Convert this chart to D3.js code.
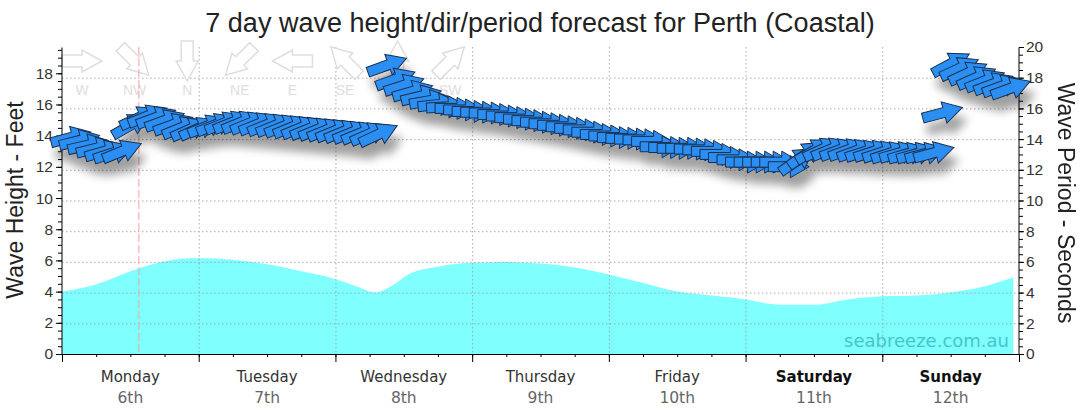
<!DOCTYPE html>
<html>
<head>
<meta charset="utf-8">
<script src="https://cdn.jsdelivr.net/npm/d3@7"></script>
<style>
    html, body { margin: 0; padding: 0; background: #fff; }
    svg { display: block; }
    .tick text { font-family: "Liberation Sans", Arial, sans-serif; font-size: 15.5px; fill: #333; }
    .domain, .tick line { stroke: #000; }
</style>
</head>
<body>
<div id="chart"></div>
<script>
// Wave height (feet)
const heightHours = [0, 6, 12, 18, 24, 30, 36, 42, 48, 52, 55, 58, 61, 66, 72, 78, 84, 90, 96,
    102, 108, 114, 120, 126, 132, 138, 144, 150, 156, 162, 167];
const heightFeet = [4.0, 4.45, 5.3, 5.95, 6.15, 6.05, 5.75, 5.3, 4.8, 4.3, 3.95, 4.4, 5.15, 5.6,
    5.85, 5.9, 5.8, 5.55, 5.1, 4.55, 4.0, 3.75, 3.5, 3.15, 3.15, 3.5, 3.7, 3.75, 3.95, 4.35, 4.9];

// Arrow times (hours from Monday 00:00), period (s) and direction (deg, coming from)
const arrowHours = [
    1.5, 3, 4.5, 6, 7.5, 9, 10.5,
    12, 13.5, 15, 16.5, 18, 19.5, 21, 22.5, 24, 25.5, 27, 28.5, 30, 31.5, 33, 34.5, 36, 37.5,
    39, 40.5, 42, 43.5, 45, 46.5, 48, 49.5, 51, 52.5, 54, 55.5,
    57, 58.5, 60, 61.5, 63, 64.5, 66, 67.5, 69, 70.5, 72, 73.5, 75, 76.5, 78, 79.5, 81, 82.5,
    84, 85.5, 87, 88.5, 90, 91.5, 93, 94.5, 96, 97.5, 99, 100.5, 102, 103.5, 105, 106.5, 108,
    109.5, 111, 112.5, 114, 115.5, 117, 118.5, 120, 121.5, 123, 124.5, 126,
    127.5, 129, 130.5, 132, 133.5, 135, 136.5, 138, 139.5, 141, 142.5, 144, 145.5, 147, 148.5,
    150, 151.5, 153,
    154.5,
    156, 157.5, 159, 160.5, 162, 163.5, 165, 166.5
];
const arrowPeriod = [
    14.1, 13.9, 13.6, 13.4, 13.2, 13.1, 13.2,
    14.9, 15.4, 15.5, 15.4, 15.2, 14.95, 14.75, 14.65, 14.7, 14.85, 14.95, 15.05, 15.1, 15.1,
    15.05, 15.0, 14.95, 14.9, 14.85, 14.8, 14.75, 14.7, 14.65, 14.6, 14.55, 14.5, 14.45, 14.4,
    14.35, 14.3,
    18.8, 17.9, 17.5, 17.1, 16.8, 16.5, 16.25, 16.1, 16.0, 15.9, 15.8, 15.75, 15.7, 15.6, 15.5,
    15.4, 15.3, 15.2, 15.1, 15.0, 14.9, 14.8, 14.7, 14.6, 14.45, 14.3, 14.2, 14.1, 14.05, 14.0,
    13.95, 13.85, 13.5, 13.45, 13.4, 13.4, 13.35, 13.3, 13.2, 13.0, 12.8, 12.65, 12.5, 12.5,
    12.5, 12.5, 12.5,
    12.2, 12.6, 13.0, 13.25, 13.35, 13.35, 13.3, 13.3, 13.25, 13.2, 13.2, 13.15, 13.1, 13.1,
    13.05, 13.05, 13.05, 13.1,
    15.7,
    18.9, 18.6, 18.3, 18.0, 17.8, 17.6, 17.45, 17.3
];
const arrowDir = [
    255, 256, 257, 256, 254, 252, 248,
    240, 245, 248, 250, 250, 250, 248, 246, 246, 248, 248, 248, 248, 248, 248, 248, 248, 248,
    248, 248, 248, 248, 248, 248, 248, 248, 248, 248, 246, 245,
    250, 250, 252, 254, 256, 260, 264, 267, 270, 270, 270, 270, 270, 270, 270, 270, 270, 270,
    270, 270, 270, 270, 270, 270, 270, 270, 270, 270, 270, 270, 270, 270, 270, 270, 270, 270,
    270, 270, 270, 270, 270, 270, 270, 270, 270, 270, 270, 270,
    235, 235, 240, 245, 248, 250, 250, 250, 252, 252, 252, 252, 254, 254, 254, 255, 255, 255,
    242,
    245, 245, 246, 248, 249, 250, 250, 250
];

// Day labels along the bottom
const dayNames = ['Monday', 'Tuesday', 'Wednesday', 'Thursday', 'Friday', 'Saturday', 'Sunday'];
const dayDates = ['6th', '7th', '8th', '9th', '10th', '11th', '12th'];
const weekendDays = ['Saturday', 'Sunday'];

// Compass legend
const compassLabels = ['W', 'NW', 'N', 'NE', 'E', 'SE', 'S', 'SW'];
const compassDirs = [270, 315, 0, 45, 90, 135, 180, 225];

// Tick labels
const heightTicks = [0, 2, 4, 6, 8, 10, 12, 14, 16, 18];
const periodTicks = [0, 2, 4, 6, 8, 10, 12, 14, 16, 18, 20];

const nowHour = 13.5;

// Configuration
const CONFIG = {
    width: 1080,
    height: 414,
    left: 62,
    right: 1019,
    top: 47,
    bottom: 354,
    maxFeet: 19.685,   // 6 metres
    maxPeriod: 20,
    hours: 168
};

const svg = d3.select('#chart')
    .append('svg')
    .attr('width', CONFIG.width)
    .attr('height', CONFIG.height);

const x = d3.scaleLinear().domain([0, CONFIG.hours]).range([CONFIG.left, CONFIG.right]);
const yFeet = d3.scaleLinear().domain([0, CONFIG.maxFeet]).range([CONFIG.bottom, CONFIG.top]);
const yPeriod = d3.scaleLinear().domain([0, CONFIG.maxPeriod]).range([CONFIG.bottom, CONFIG.top]);

// Shadow for the forecast arrows
const defs = svg.append('defs');
const shadow = defs.append('filter')
    .attr('id', 'arrow-shadow')
    .attr('x', '-20%').attr('y', '-50%')
    .attr('width', '140%').attr('height', '200%');
shadow.append('feGaussianBlur').attr('in', 'SourceAlpha').attr('stdDeviation', 5).attr('result', 'blur');
shadow.append('feOffset').attr('in', 'blur').attr('dx', 5).attr('dy', 12).attr('result', 'off');
shadow.append('feComponentTransfer').attr('in', 'off').attr('result', 'soft')
    .append('feFuncA').attr('type', 'linear').attr('slope', 0.38);
const merge = shadow.append('feMerge');
merge.append('feMergeNode').attr('in', 'soft');
merge.append('feMergeNode').attr('in', 'SourceGraphic');

// Wave height area
const area = d3.area()
    .x((d, i) => x(heightHours[i]))
    .y0(CONFIG.bottom)
    .y1(d => yFeet(d))
    .curve(d3.curveMonotoneX);

svg.append('path')
    .datum(heightFeet)
    .attr('d', area)
    .attr('fill', '#80ffff');

// Grid lines (dotted)
const grid = svg.append('g').attr('stroke', '#999').attr('stroke-dasharray', '1.5,2.5').attr('opacity', 0.8);
grid.selectAll('.hgrid')
    .data(periodTicks.filter(d => d > 0 && d < CONFIG.maxPeriod))
    .enter().append('line')
    .attr('x1', CONFIG.left).attr('x2', CONFIG.right)
    .attr('y1', d => yPeriod(d) + 0.5).attr('y2', d => yPeriod(d) + 0.5);
grid.selectAll('.vgrid')
    .data(d3.range(24, CONFIG.hours, 24))
    .enter().append('line')
    .attr('x1', d => x(d) + 0.5).attr('x2', d => x(d) + 0.5)
    .attr('y1', CONFIG.top).attr('y2', CONFIG.bottom);

// Watermark
svg.append('text')
    .attr('x', 1009)
    .attr('y', 347)
    .attr('text-anchor', 'end')
    .style('font-family', '"DejaVu Sans", Verdana, sans-serif')
    .style('font-size', '18px')
    .style('fill', '#3cbcc4')
    .style('opacity', 0.85)
    .text('seabreeze.com.au');

// Compass legend
const arrowShape = 'M-20,-5L2,-5L2,-11L21,0L2,11L2,5L-20,5Z';
const legendShape = 'M-20,-6L0,-6L0,-11L20,0L0,11L0,6L-20,6Z';

const legend = svg.append('g');
compassLabels.forEach((label, i) => {
    const cx = 82 + i * 52.6;
    legend.append('path')
        .attr('d', legendShape)
        .attr('transform', `translate(${cx},61) rotate(${compassDirs[i] + 180 - 90})`)
        .attr('fill', '#fff')
        .attr('stroke', '#dedede')
        .attr('stroke-width', 1.5);
    legend.append('text')
        .attr('x', cx)
        .attr('y', 95)
        .attr('text-anchor', 'middle')
        .style('font-family', '"Liberation Sans", Arial, sans-serif')
        .style('font-size', '14px')
        .style('fill', '#dedede')
        .text(label);
});

// Current time marker
svg.append('line')
    .attr('x1', x(nowHour)).attr('x2', x(nowHour))
    .attr('y1', CONFIG.top).attr('y2', CONFIG.bottom)
    .attr('stroke', '#f2a0a0')
    .attr('stroke-width', 1)
    .attr('stroke-dasharray', '8,3');

// Axes
const leftAxis = svg.append('g')
    .attr('transform', `translate(${CONFIG.left},0)`)
    .call(d3.axisLeft(yFeet).tickValues(heightTicks).tickSize(6).tickPadding(3));
svg.append('g')
    .attr('transform', `translate(${CONFIG.left},0)`)
    .call(d3.axisLeft(yFeet).tickValues(d3.range(0, CONFIG.maxFeet, 0.5)).tickSize(4).tickFormat(''))
    .select('.domain').remove();

const rightAxis = svg.append('g')
    .attr('transform', `translate(${CONFIG.right},0)`)
    .call(d3.axisRight(yPeriod).tickValues(periodTicks).tickSize(5).tickPadding(2));
svg.append('g')
    .attr('transform', `translate(${CONFIG.right},0)`)
    .call(d3.axisRight(yPeriod).tickValues(d3.range(0, CONFIG.maxPeriod, 0.5)).tickSize(4).tickFormat(''))
    .select('.domain').remove();

svg.append('g')
    .attr('transform', `translate(0,${CONFIG.bottom})`)
    .call(d3.axisBottom(x).tickValues(d3.range(0, CONFIG.hours + 1, 6)).tickSize(3).tickFormat(''));
svg.append('g')
    .attr('transform', `translate(0,${CONFIG.bottom})`)
    .call(d3.axisBottom(x).tickValues(d3.range(0, CONFIG.hours + 1, 24)).tickSize(8).tickFormat(''))
    .select('.domain').remove();

[leftAxis, rightAxis].forEach(a => a.selectAll('.domain').attr('d', function() {
    return d3.select(this).attr('d').replace(/^M[-\d.]+,/, 'M0,').replace(/H[-\d.]+V/, 'V').replace(/V([-\d.]+)H[-\d.]+$/, 'V$1');
}));

// Day labels
dayNames.forEach((name, i) => {
    const cx = x(i * 24 + 12);
    const isWeekend = weekendDays.includes(name);
    svg.append('text')
        .attr('x', cx).attr('y', 382)
        .attr('text-anchor', 'middle')
        .style('font-family', '"DejaVu Sans", Verdana, sans-serif')
        .style('font-size', '15px')
        .style('font-weight', isWeekend ? 'bold' : 'normal')
        .style('fill', isWeekend ? '#111' : '#333')
        .text(name);
    svg.append('text')
        .attr('x', cx).attr('y', 403)
        .attr('text-anchor', 'middle')
        .style('font-family', '"DejaVu Sans", Verdana, sans-serif')
        .style('font-size', '15.5px')
        .style('fill', '#666')
        .text(dayDates[i]);
});

// Forecast arrows: period on the right axis, rotated to direction of travel
const arrows = svg.append('g').attr('filter', 'url(#arrow-shadow)');
arrows.selectAll('path')
    .data(arrowHours)
    .enter().append('path')
    .attr('d', arrowShape)
    .attr('transform', (h, i) => `translate(${x(h)},${yPeriod(arrowPeriod[i])}) rotate(${arrowDir[i] + 180 - 90})`)
    .attr('fill', '#2b8ef2')
    .attr('stroke', '#1b2f4d')
    .attr('stroke-width', 1)
    .attr('stroke-linejoin', 'miter');

// Titles
svg.append('text')
    .attr('x', 540).attr('y', 32)
    .attr('text-anchor', 'middle')
    .style('font-family', '"Liberation Sans", Arial, sans-serif')
    .style('font-size', '27px')
    .style('fill', '#222')
    .text('7 day wave height/dir/period forecast for Perth (Coastal)');

svg.append('text')
    .attr('transform', 'translate(23,200) rotate(-90)')
    .attr('text-anchor', 'middle')
    .style('font-family', '"Liberation Sans", Arial, sans-serif')
    .style('font-size', '23px')
    .style('fill', '#222')
    .text('Wave Height - Feet');

svg.append('text')
    .attr('transform', 'translate(1058,203) rotate(90)')
    .attr('text-anchor', 'middle')
    .style('font-family', '"Liberation Sans", Arial, sans-serif')
    .style('font-size', '23px')
    .style('fill', '#222')
    .text('Wave Period - Seconds');
</script>
</body>
</html>
